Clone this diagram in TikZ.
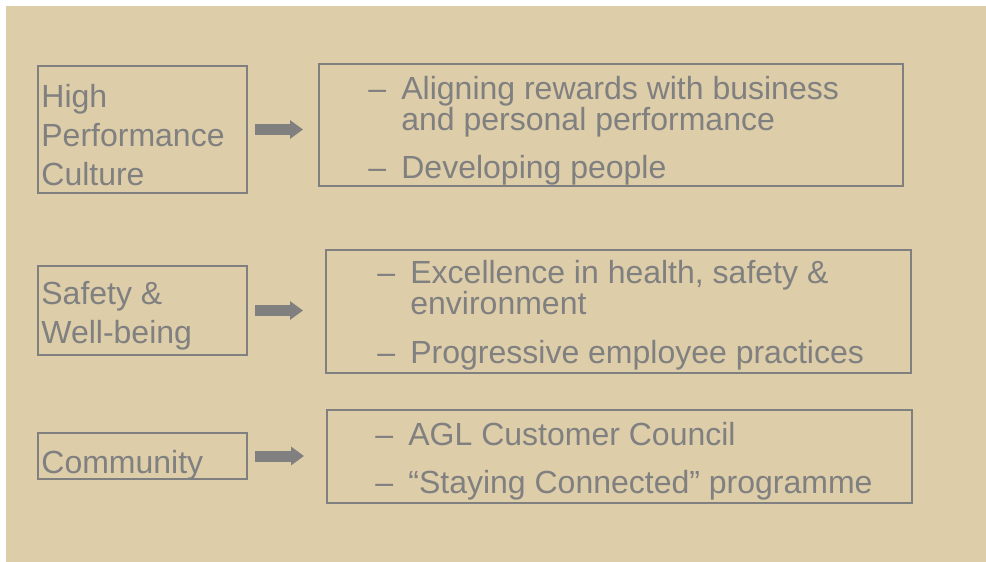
\documentclass[tikz,border=0pt]{standalone}
\usepackage{fontspec}
\setmainfont{Liberation Sans}
\usetikzlibrary{positioning, arrows.meta}
\definecolor{sand}{RGB}{221,205,169}
\definecolor{ink}{RGB}{128,128,128}
\newcommand{\bul}{\makebox[16.5pt][l]{–}}
\newcommand{\hang}{\hspace*{16.5pt}}

\begin{document}
\begin{tikzpicture}[x=0.5pt, y=-0.5pt,
    catbox/.style = {draw=ink, line width=1pt, anchor=north west, inner sep=0pt},
    cattext/.style = {anchor=base west, inner sep=0pt, text=ink, align=left, font=\fontsize{16}{19.5}\selectfont},
    itemtext/.style = {anchor=base west, inner sep=0pt, text=ink, align=left, font=\fontsize{16}{15.5}\selectfont},
    fatarrow/.style = {draw=ink, line width=5.5pt, -{Triangle[length=6.5pt,width=9pt]}, shorten <=3.5pt}]
                \useasboundingbox (0,0) rectangle (986,562);
                \fill[sand] (6,6) rectangle (986,562);
                % left column (text placed by its last baseline)
                \node[catbox, minimum width=104.5pt, minimum height=63.5pt] (hpc) at (37,65) {};
                \node[cattext] (hpc-t) at (41,185) {High\\Performance\\Culture};
                \node[catbox, minimum width=104.5pt, minimum height=44.5pt] (safe) at (37,265) {};
                \node[cattext] (safe-t) at (41,343) {Safety \&\\Well-being};
                \node[catbox, minimum width=104.5pt, minimum height=23pt] (comm) at (37,432) {};
                \node[cattext] (comm-t) at (41,473) {Community};
                % right column
                \node[catbox, minimum width=292pt, minimum height=61pt] (hpcr) at (318,63) {};
                \node[itemtext] (hpcr-t) at (368,178) {\bul Aligning rewards with business\\\hang and personal performance\\[8.5pt]\bul Developing people};
                \node[catbox, minimum width=292.5pt, minimum height=61.5pt] (safer) at (325,249) {};
                \node[itemtext] (safer-t) at (377,363) {\bul Excellence in health, safety \&\\\hang environment\\[9pt]\bul Progressive employee practices};
                \node[catbox, minimum width=292.5pt, minimum height=46.5pt] (commr) at (326,409) {};
                \node[itemtext] (commr-t) at (375,493) {\bul AGL Customer Council\\[8.5pt]\bul “Staying Connected” programme};
                % arrows
                \draw[fatarrow, shorten >=7.5pt] (hpc.east) -- (hpc.east -| hpcr.west);
                \draw[fatarrow, shorten >=11pt] (safe.east) -- (safe.east -| safer.west);
                \draw[fatarrow, shorten >=11pt] (comm.east) -- (comm.east -| commr.west);
\end{tikzpicture}
\end{document}
